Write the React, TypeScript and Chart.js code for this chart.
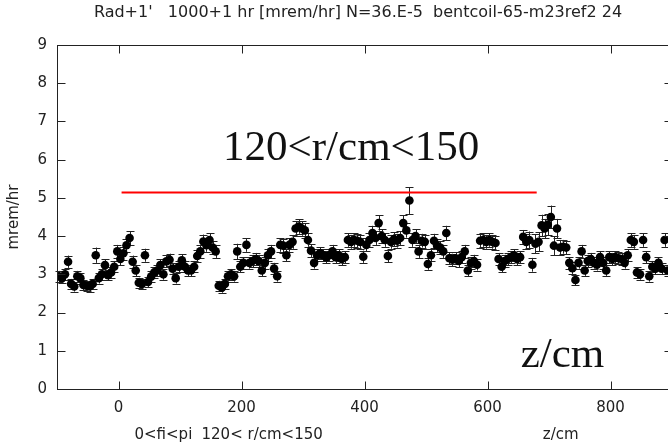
import React, { useEffect, useRef } from "react";
import { Chart, registerables } from "chart.js";

Chart.register(...registerables);

// ---- data ----
const zPositions = [
  -97, -92, -87, -82, -77, -72, -67, -62, -57, -52,
  -47, -42, -37, -32, -27, -22, -17, -12, -7, -2,
  3, 8, 13, 18, 23, 28, 33, 38, 43, 48,
  53, 58, 63, 68, 73, 78, 83, 88, 93, 98,
  103, 108, 113, 118, 123, 128, 133, 138, 143, 148,
  153, 158, 163, 168, 173, 178, 183, 188, 193, 198,
  203, 208, 213, 218, 223, 228, 233, 238, 243, 248,
  253, 258, 263, 268, 273, 278, 283, 288, 293, 298,
  303, 308, 313, 318, 323, 328, 333, 338, 343, 348,
  353, 358, 363, 368, 373, 378, 383, 388, 393, 398,
  403, 408, 413, 418, 423, 428, 433, 438, 443, 448,
  453, 458, 463, 468, 473, 478, 483, 488, 493, 498,
  503, 508, 513, 518, 523, 528, 533, 538, 543, 548,
  553, 558, 563, 568, 573, 578, 583, 588, 593, 598,
  603, 608, 613, 618, 623, 628, 633, 638, 643, 648,
  653, 658, 663, 668, 673, 678, 683, 688, 693, 698,
  703, 708, 713, 718, 723, 728, 733, 738, 743, 748,
  753, 758, 763, 768, 773, 778, 783, 788, 793, 798,
  803, 808, 813, 818, 823, 828, 833, 838, 843, 848,
  853, 858, 863, 868, 873, 878, 883, 888, 893,
];

const doseRate = [
  2.95, 2.9, 3.0, 3.33, 2.75, 2.68, 2.95, 2.9, 2.72, 2.7,
  2.68, 2.75, 3.5, 2.9, 3.0, 3.24, 2.98, 3.05, 3.2, 3.6,
  3.4, 3.55, 3.76, 3.95, 3.33, 3.1, 2.78, 2.75, 3.5, 2.8,
  2.94, 3.05, 3.1, 3.24, 3.0, 3.34, 3.38, 3.15, 2.9, 3.2,
  3.37, 3.2, 3.1, 3.1, 3.2, 3.48, 3.6, 3.86, 3.76, 3.9,
  3.7, 3.6, 2.7, 2.65, 2.75, 2.95, 3.0, 2.95, 3.6, 3.2,
  3.3, 3.77, 3.3, 3.35, 3.4, 3.35, 3.1, 3.3, 3.5, 3.6,
  3.15, 2.95, 3.77, 3.75, 3.5, 3.77, 3.85, 4.2, 4.25, 4.2,
  4.15, 3.9, 3.62, 3.3, 3.5, 3.55, 3.5, 3.45, 3.5, 3.6,
  3.45, 3.5, 3.4, 3.45, 3.9, 3.85, 3.9, 3.88, 3.85, 3.46,
  3.77, 3.9, 4.08, 3.95, 4.34, 4.0, 3.9, 3.48, 3.85, 3.92,
  3.88, 3.95, 4.34, 4.15, 4.93, 3.9, 4.0, 3.6, 3.88, 3.85,
  3.27, 3.5, 3.88, 3.75, 3.7, 3.6, 4.08, 3.42, 3.38, 3.42,
  3.35, 3.45, 3.6, 3.1, 3.3, 3.35, 3.25, 3.88, 3.9, 3.85,
  3.9, 3.85, 3.82, 3.4, 3.2, 3.35, 3.4, 3.45, 3.5, 3.4,
  3.45, 3.98, 3.85, 3.9, 3.25, 3.8, 3.85, 4.28, 4.2, 4.3,
  4.5, 3.75, 4.2, 3.7, 3.72, 3.7, 3.3, 3.16, 2.85, 3.3,
  3.6, 3.1, 3.35, 3.4, 3.3, 3.25, 3.45, 3.3, 3.1, 3.45,
  3.4, 3.45, 3.42, 3.4, 3.3, 3.5, 3.9, 3.85, 3.05, 3.0,
  3.9, 3.45, 2.95, 3.2, 3.15, 3.3, 3.15, 3.9, 3.1,
];

const doseError = [
  0.14, 0.13, 0.14, 0.16, 0.13, 0.13, 0.14, 0.14, 0.13, 0.13,
  0.13, 0.13, 0.2, 0.14, 0.14, 0.16, 0.14, 0.14, 0.15, 0.17,
  0.16, 0.17, 0.17, 0.18, 0.16, 0.15, 0.13, 0.13, 0.17, 0.13,
  0.14, 0.14, 0.15, 0.15, 0.14, 0.16, 0.16, 0.15, 0.14, 0.15,
  0.16, 0.15, 0.15, 0.15, 0.15, 0.16, 0.17, 0.18, 0.17, 0.18,
  0.17, 0.17, 0.13, 0.13, 0.13, 0.14, 0.14, 0.14, 0.2, 0.15,
  0.15, 0.18, 0.15, 0.16, 0.16, 0.16, 0.15, 0.16, 0.16, 0.17,
  0.15, 0.14, 0.18, 0.18, 0.16, 0.18, 0.18, 0.19, 0.19, 0.19,
  0.19, 0.18, 0.17, 0.15, 0.16, 0.16, 0.16, 0.16, 0.16, 0.17,
  0.16, 0.16, 0.16, 0.16, 0.18, 0.18, 0.18, 0.18, 0.18, 0.16,
  0.17, 0.18, 0.19, 0.18, 0.2, 0.18, 0.18, 0.16, 0.18, 0.18,
  0.18, 0.18, 0.2, 0.19, 0.35, 0.18, 0.18, 0.17, 0.18, 0.18,
  0.15, 0.16, 0.18, 0.17, 0.17, 0.17, 0.19, 0.16, 0.16, 0.16,
  0.16, 0.16, 0.17, 0.15, 0.15, 0.16, 0.15, 0.18, 0.18, 0.18,
  0.18, 0.18, 0.18, 0.16, 0.15, 0.16, 0.16, 0.16, 0.16, 0.16,
  0.16, 0.18, 0.2, 0.22, 0.18, 0.25, 0.25, 0.28, 0.25, 0.28,
  0.3, 0.25, 0.25, 0.2, 0.18, 0.17, 0.15, 0.15, 0.14, 0.15,
  0.17, 0.14, 0.16, 0.16, 0.15, 0.15, 0.16, 0.15, 0.14, 0.16,
  0.16, 0.16, 0.16, 0.16, 0.15, 0.16, 0.18, 0.18, 0.14, 0.14,
  0.18, 0.16, 0.14, 0.15, 0.15, 0.15, 0.15, 0.18, 0.15,
];

const xTickValues = [0, 200, 400, 600, 800];
const yTickValues = [0, 1, 2, 3, 4, 5, 6, 7, 8, 9];
const redLineZ = [5, 680];
const redLineLevel = 5.14;

const titleText = "Rad+1'   1000+1 hr [mrem/hr] N=36.E-5  bentcoil-65-m23ref2 24";
const yAxisTitle = "mrem/hr";
const bottomNotes = ["0<fi<pi", "120< r/cm<150", "z/cm"];
const bigNotes = ["120<r/cm<150", "z/cm"];

const SANS = "'DejaVu Sans', sans-serif";
const SERIF = "'Liberation Serif', serif";
const INK = "#222";

const framePlugin = {
  id: "gnuframe",
  beforeDatasetsDraw(chart: any) {
    const { ctx } = chart;
    const xs = chart.scales.x;
    const ys = chart.scales.y;
    ctx.save();
    ctx.strokeStyle = "#222";
    ctx.lineWidth = 1;
    for (let i = 0; i < zPositions.length; i++) {
      const px = Math.round(xs.getPixelForValue(zPositions[i])) + 0.5;
      const yTop = ys.getPixelForValue(doseRate[i] + doseError[i]);
      const yBot = ys.getPixelForValue(doseRate[i] - doseError[i]);
      ctx.beginPath();
      ctx.moveTo(px, yTop);
      ctx.lineTo(px, yBot);
      ctx.moveTo(px - 4, Math.round(yTop) + 0.5);
      ctx.lineTo(px + 4, Math.round(yTop) + 0.5);
      ctx.moveTo(px - 4, Math.round(yBot) + 0.5);
      ctx.lineTo(px + 4, Math.round(yBot) + 0.5);
      ctx.stroke();
    }
    ctx.restore();
  },
  afterDraw(chart: any) {
    const { ctx, chartArea } = chart;
    const xs = chart.scales.x;
    const ys = chart.scales.y;
    const L = Math.round(chartArea.left) + 0.5;
    const R = Math.round(chartArea.right) + 0.5;
    const T = Math.round(chartArea.top) + 0.5;
    const B = Math.round(chartArea.bottom) + 0.5;
    ctx.save();
    ctx.strokeStyle = "#222";
    ctx.lineWidth = 1;
    ctx.strokeRect(L, T, R - L, B - T);
    const tl = 8;
    ctx.beginPath();
    for (const v of xTickValues) {
      const px = Math.round(xs.getPixelForValue(v)) + 0.5;
      ctx.moveTo(px, B);
      ctx.lineTo(px, B - tl);
      ctx.moveTo(px, T);
      ctx.lineTo(px, T + tl);
    }
    for (const v of yTickValues) {
      const py = Math.round(ys.getPixelForValue(v)) + 0.5;
      ctx.moveTo(L, py);
      ctx.lineTo(L + tl, py);
      ctx.moveTo(R, py);
      ctx.lineTo(R - tl, py);
    }
    ctx.stroke();

    // title
    ctx.fillStyle = INK;
    ctx.font = `16px ${SANS}`;
    ctx.textAlign = "center";
    ctx.textBaseline = "middle";
    ctx.fillText(titleText, 358, 13);

    // y-axis title
    ctx.save();
    ctx.font = `15px ${SANS}`;
    ctx.translate(14, (chartArea.top + chartArea.bottom) / 2);
    ctx.rotate(-Math.PI / 2);
    ctx.fillText(yAxisTitle, 0, 0);
    ctx.restore();

    // bottom notes
    ctx.textAlign = "left";
    ctx.font = `15px ${SANS}`;
    const noteY = chartArea.bottom + 46;
    ctx.fillText(bottomNotes[0], xs.getPixelForValue(26), noteY);
    ctx.fillText(bottomNotes[1], xs.getPixelForValue(135), noteY);
    ctx.fillText(bottomNotes[2], xs.getPixelForValue(690), noteY);

    // large serif notes
    ctx.fillStyle = "#111";
    ctx.font = `43px ${SERIF}`;
    ctx.textBaseline = "alphabetic";
    ctx.fillText(bigNotes[0], xs.getPixelForValue(170), ys.getPixelForValue(6.0));
    ctx.fillText(bigNotes[1], xs.getPixelForValue(654), ys.getPixelForValue(0.57));
    ctx.restore();
  },
};

export default function App() {
  const canvasRef = useRef<HTMLCanvasElement | null>(null);

  useEffect(() => {
    const canvas = canvasRef.current;
    if (!canvas) return;
    const chart = new Chart(canvas, {
      type: "scatter",
      data: {
        datasets: [
          {
            type: "line",
            data: redLineZ.map((z) => ({ x: z, y: redLineLevel })),
            borderColor: "#ff0000",
            borderWidth: 2,
            pointRadius: 0,
            fill: false,
          } as any,
          {
            type: "scatter",
            data: zPositions.map((z, i) => ({ x: z, y: doseRate[i] })),
            backgroundColor: "#000",
            borderColor: "#000",
            borderWidth: 0,
            pointRadius: 4.3,
          },
        ],
      },
      options: {
        responsive: false,
        animation: false,
        devicePixelRatio: 1,
        layout: { padding: { left: 0, top: 45, right: 8, bottom: 0 } },
        plugins: {
          legend: { display: false },
          tooltip: { enabled: false },
          title: { display: false },
        },
        scales: {
          x: {
            type: "linear",
            min: -100,
            max: 900,
            afterBuildTicks: (s: any) => {
              s.ticks = xTickValues.map((v) => ({ value: v }));
            },
            afterFit: (s: any) => {
              s.height = 55;
            },
            ticks: {
              font: { family: SANS, size: 15 },
              color: INK,
              padding: 10,
              maxRotation: 0,
              autoSkip: false,
            },
            grid: { display: false, drawTicks: false },
            border: { display: false },
          },
          y: {
            type: "linear",
            min: 0,
            max: 9,
            afterBuildTicks: (s: any) => {
              s.ticks = yTickValues.map((v) => ({ value: v }));
            },
            afterFit: (s: any) => {
              s.width = 57;
            },
            ticks: {
              font: { family: SANS, size: 15 },
              color: INK,
              padding: 10,
              autoSkip: false,
            },
            grid: { display: false, drawTicks: false },
            border: { display: false },
          },
        },
      },
      plugins: [framePlugin],
    });
    return () => chart.destroy();
  }, []);

  return (
    <div
      style={{
        position: "fixed",
        left: 0,
        top: 0,
        width: 668,
        height: 444,
        overflow: "hidden",
        background: "#fff",
      }}
    >
      <canvas ref={canvasRef} width={680} height={444} style={{ display: "block" }} />
    </div>
  );
}
